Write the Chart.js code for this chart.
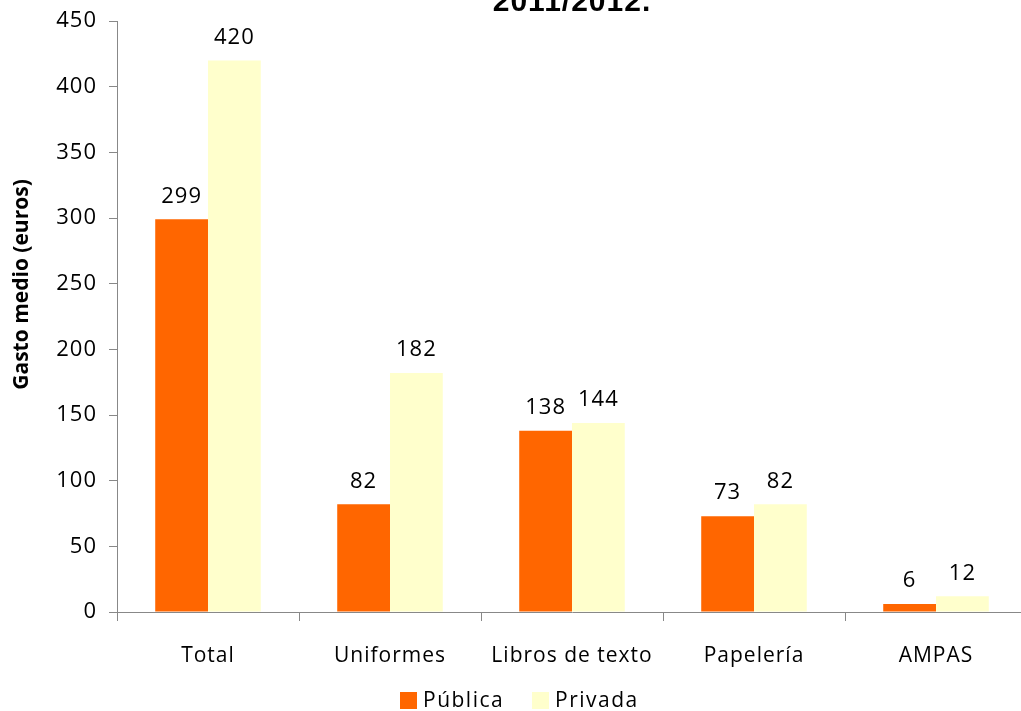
<!DOCTYPE html>
<html>
<head>
<meta charset="utf-8">
<script src="https://cdn.jsdelivr.net/npm/chart.js@4"></script>
<style>
  html, body { margin: 0; padding: 0; background: #fff; overflow: hidden; }
  #wrap { position: absolute; left: 0; top: -15px; width: 1045px; height: 726px; }
  #legenda { position: absolute; left: 0; top: 687px; width: 1021px; height: 24px;
             font: 21px 'Open Sans', 'Noto Sans', sans-serif; letter-spacing: 1.5px; color: #000; }
  #legenda span.item { position: absolute; top: 0; line-height: 24px; white-space: nowrap; }
  #legenda i { display: inline-block; width: 17px; height: 17px; vertical-align: -2px; margin-right: 6px; }
</style>
</head>
<body>
<div id="wrap"><canvas id="grafico"></canvas></div>
<div id="legenda"></div>
<script>
// Dados
const categorias = ["Total", "Uniformes", "Libros de texto", "Papelería", "AMPAS"];
const publica = [299, 82, 138, 73, 6];
const privada = [420, 182, 144, 82, 12];
const ticksY = [0, 50, 100, 150, 200, 250, 300, 350, 400, 450];

const fonte = "'Open Sans', 'Noto Sans', sans-serif";

// Espaçamento das letras (o original tem texto mais espaçado)
const espaco = {
  id: "espaco",
  beforeLayout(chart) { chart.ctx.letterSpacing = "1px"; },
  beforeDraw(chart) { chart.ctx.letterSpacing = "1px"; }
};

// Rótulos em cima das barras + título do eixo Y
const rotulos = {
  id: "rotulos",
  afterDatasetsDraw(chart) {
    const ctx = chart.ctx;
    ctx.save();
    ctx.font = "22px " + fonte;
    ctx.fillStyle = "#000";
    ctx.textAlign = "center";
    ctx.textBaseline = "bottom";
    chart.data.datasets.forEach((ds, i) => {
      chart.getDatasetMeta(i).data.forEach((bar, j) => {
        ctx.fillText(ds.data[j], bar.x, bar.y - 12);
      });
    });
    const a = chart.chartArea;
    ctx.letterSpacing = "0px";
    ctx.font = "bold 21px " + fonte;
    ctx.translate(22, (a.top + a.bottom) / 2 - 32);
    ctx.rotate(-Math.PI / 2);
    ctx.textBaseline = "middle";
    ctx.fillText("Gasto medio (euros)", 0, 0);
    ctx.restore();
  }
};

const ctx = document.getElementById("grafico").getContext("2d");
const grafico = new Chart(ctx, {
  type: "bar",
  data: {
    labels: categorias,
    datasets: [
      { label: "Pública", data: publica, backgroundColor: "#FF6600" },
      { label: "Privada", data: privada, backgroundColor: "#FFFFCC" }
    ]
  },
  options: {
    responsive: true,
    maintainAspectRatio: false,
    animation: false,
    datasets: { bar: { categoryPercentage: 0.58, barPercentage: 1 } },
    layout: { padding: { left: 0, right: 18, top: 0, bottom: 0 } },
    plugins: {
      title: {
        display: true,
        text: "2011/2012.",
        color: "#000",
        font: { family: "'Liberation Sans', Arial, sans-serif", size: 30, weight: "bold" },
        padding: { top: 0, bottom: 0 },
        fullSize: false
      },
      legend: { display: false },
      tooltip: { enabled: false }
    },
    scales: {
      x: {
        afterFit: scale => { scale.height = 99; },
        grid: { drawOnChartArea: false, color: "#888", tickLength: 9, offset: true },
        border: { color: "#888" },
        ticks: { color: "#000", font: { family: fonte, size: 21 }, padding: 22, autoSkip: false, maxRotation: 0 }
      },
      y: {
        min: 0,
        max: 450,
        afterBuildTicks: scale => { scale.ticks = ticksY.map(v => ({ value: v })); },
        afterFit: scale => { scale.width = 117; },
        grid: { drawOnChartArea: false, color: "#888", tickLength: 8 },
        border: { color: "#888" },
        ticks: { color: "#000", font: { family: fonte, size: 22 }, padding: 12 }
      }
    }
  },
  plugins: [espaco, rotulos]
});

// Legenda em HTML (itens bem separados como no original)
const legenda = document.getElementById("legenda");
const posLegenda = [400, 532];
grafico.data.datasets.forEach((ds, i) => {
  const item = document.createElement("span");
  item.className = "item";
  item.style.left = posLegenda[i] + "px";
  item.innerHTML = `<i style="background:${ds.backgroundColor}"></i>${ds.label}`;
  legenda.appendChild(item);
});
</script>
</body>
</html>
